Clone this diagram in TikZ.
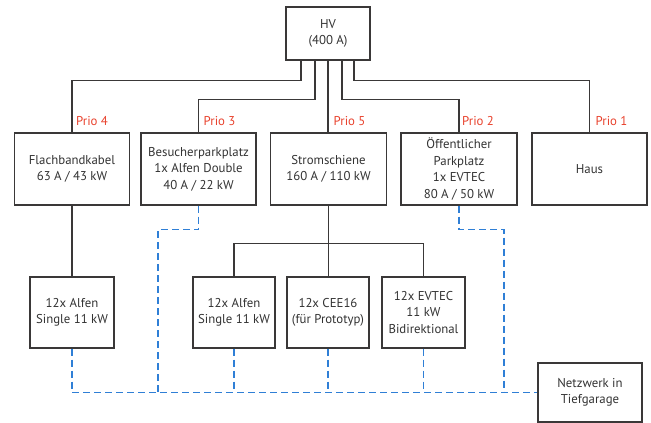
\documentclass[tikz,border=0pt]{standalone}
\usepackage{fontspec}
\setmainfont{PT Sans}
\usetikzlibrary{calc}
\definecolor{linegray}{HTML}{3A3838}
\definecolor{textgray}{HTML}{333333}
\definecolor{netblue}{HTML}{2F7FD6}
\definecolor{priored}{HTML}{E8412C}
\begin{document}
\begin{tikzpicture}[x=1pt,y=-1pt,
  box/.style={draw=linegray, line width=1.3pt, fill=white, align=center, inner sep=0pt,
    text=textgray, font=\fontsize{12.8}{16.4}\selectfont},
  conn/.style={draw=linegray, line width=1.1pt},
  net/.style={draw=netblue, line width=1.5pt, dash pattern=on 7pt off 4pt},
  prio/.style={text=priored, font=\fontsize{12.8}{14}\selectfont, anchor=west, inner sep=0pt}]
\useasboundingbox (0,0) rectangle (651,423);

% top
\node[box, minimum width=84pt, minimum height=53pt] (hv) at (328,33.5) {HV\\(400 A)};

% first row
\node[box, minimum width=115pt, minimum height=72pt] (flach) at (72,169) {Flachbandkabel\\63 A / 43 kW};
\node[box, minimum width=115pt, minimum height=72pt] (besuch) at (198.5,169) {Besucherparkplatz\\1x Alfen Double\\40 A / 22 kW};
\node[box, minimum width=116pt, minimum height=72pt] (strom) at (328.5,169) {Stromschiene\\160 A / 110 kW};
\node[box, minimum width=116pt, minimum height=72pt] (oeff) at (459,169) {Öffentlicher\\Parkplatz\\1x EVTEC\\80 A / 50 kW};
\node[box, minimum width=115pt, minimum height=72pt] (haus) at (589.5,169) {Haus};

% second row
\node[box, minimum width=84pt, minimum height=71pt] (alfenA) at (72,312.5) {12x Alfen\\Single 11 kW};
\node[box, minimum width=82pt, minimum height=71pt] (alfenB) at (234,312.5) {12x Alfen\\Single 11 kW};
\node[box, minimum width=82pt, minimum height=71pt] (cee) at (328,312.5) {12x CEE16\\(für Prototyp)};
\node[box, minimum width=83pt, minimum height=71pt] (evtec) at (423.5,312.5) {12x EVTEC\\11 kW\\Bidirektional};

\node[box, minimum width=104pt, minimum height=59pt] (netz) at (590,392.5) {Netzwerk in\\Tiefgarage};

% HV connectors
\draw[conn] ([xshift=-27pt]hv.south) -- ++(0,20) -| (flach.north);
\draw[conn] ([xshift=-13pt]hv.south) -- ++(0,39) -| (besuch.north);
\draw[conn] (hv.south) -- (hv.south |- strom.north);
\draw[conn] ([xshift=14pt]hv.south) -- ++(0,39) -| (oeff.north);
\draw[conn] ([xshift=26pt]hv.south) -- ++(0,20) -| (haus.north);

% prio labels
\node[prio] (p4) at ([xshift=4pt,yshift=11pt]flach.north) {Prio 4};
\node[prio] (p3) at ([xshift=5pt,yshift=11pt]besuch.north) {Prio 3};
\node[prio] (p5) at ([xshift=5pt,yshift=11pt]strom.north) {Prio 5};
\node[prio] (p2) at ([xshift=3pt,yshift=11pt]oeff.north) {Prio 2};
\node[prio] (p1) at ([xshift=6pt,yshift=11pt]haus.north) {Prio 1};

% lower solid connectors
\draw[conn] (flach.south) -- (alfenA.north);
\draw[conn] (strom.south) -- (strom.south |- cee.north);
\draw[conn] (alfenB.north) -- ++(0,-33) -| (evtec.north);

% network (dashed)
\coordinate (bj) at (158,392.5);
\coordinate (oj) at (504,392.5);
\draw[net] (alfenA.south) |- (netz.west);
\draw[net] (besuch.south) -- ++(0,24) -| (bj);
\draw[net] (oeff.south) -- ++(0,24) -| (oj);
\draw[net] (alfenB.south) -- (alfenB.south |- netz.west);
\draw[net] (cee.south) -- (cee.south |- netz.west);
\draw[net] (evtec.south) -- (evtec.south |- netz.west);
\end{tikzpicture}
\end{document}
